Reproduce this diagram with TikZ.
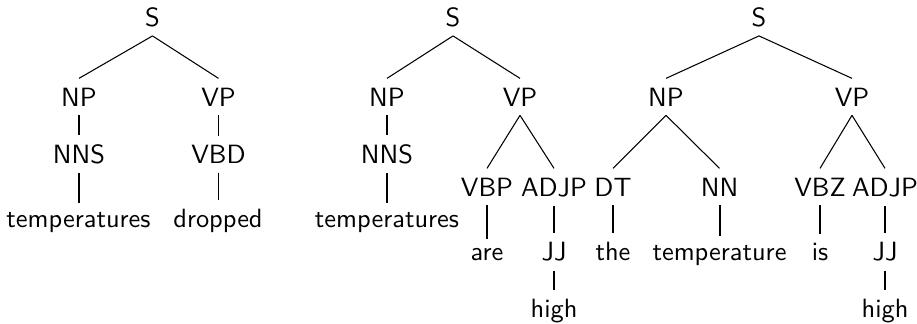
\documentclass[tikz,border=0pt]{standalone}
\begin{document}
\begin{tikzpicture}[x=0.3788pt,y=-0.3788pt,
  lbl/.style={anchor=base,font=\sffamily,inner sep=3.333pt},
  edge/.style={draw=black,line width=0.4pt},
  vedge/.style={draw=black,line width=0.75pt}]
\useasboundingbox (0,0) rectangle (917,323);
% ---------- tree 1 ----------
\node[lbl] (aS)   at (152.5,26)   {S};
\node[lbl] (aNP)  at (79,106)     {NP};
\node[lbl] (aVP)  at (218.5,106)  {VP};
\node[lbl] (aNNS) at (79,163.3)   {NNS};
\node[lbl] (aVBD) at (218.5,163.3){VBD};
\node[lbl] (aw1)  at (78.5,227.7) {temperatures};
\node[lbl] (aw2)  at (218,227.7)  {dropped};
\draw[edge] (aS.south) -- (aNP.north);
\draw[edge] (aS.south) -- (aVP.north);
\draw[vedge] (aNP.south) -- (aNNS.north);
\draw[vedge] (aVP.south) -- (aVBD.north);
\draw[vedge] (aNNS.south) -- (aNNS.south|-aw1.north);
\draw[vedge] (aVBD.south) -- (aVBD.south|-aw2.north);
% ---------- tree 2 ----------
\node[lbl] (bS)    at (453,26)    {S};
\node[lbl] (bNP)   at (387,106)   {NP};
\node[lbl] (bVP)   at (520,106)   {VP};
\node[lbl] (bNNS)  at (387,163.3) {NNS};
\node[lbl] (bw1)   at (387,227.7) {temperatures};
\node[lbl] (bVBP)  at (487,196)   {VBP};
\node[lbl] (bADJP) at (554,196)   {ADJP};
\node[lbl] (bw2)   at (487,260.7) {are};
\node[lbl] (bJJ)   at (554,260.7) {JJ};
\node[lbl] (bw3)   at (554,317.3) {high};
\draw[edge] (bS.south) -- (bNP.north);
\draw[edge] (bS.south) -- (bVP.north);
\draw[vedge] (bNP.south) -- (bNNS.north);
\draw[vedge] (bNNS.south) -- (bNNS.south|-bw1.north);
\draw[edge] (bVP.south) -- (bVBP.north);
\draw[edge] (bVP.south) -- (bADJP.north);
\draw[vedge] (bVBP.south) -- (bVBP.south|-bw2.north);
\draw[vedge] (bADJP.south) -- (bJJ.north);
\draw[vedge] (bJJ.south) -- (bJJ.south|-bw3.north);
% ---------- tree 3 ----------
\node[lbl] (cS)    at (759,26)    {S};
\node[lbl] (cNP)   at (666,106)   {NP};
\node[lbl] (cVP)   at (852,106)   {VP};
\node[lbl] (cDT)   at (613,196)   {DT};
\node[lbl] (cNN)   at (719.5,196) {NN};
\node[lbl] (cVBZ)  at (820,196)   {VBZ};
\node[lbl] (cADJP) at (885,196)   {ADJP};
\node[lbl] (cw1)   at (613,260.7) {the};
\node[lbl] (cw2)   at (719.5,260.7) {temperature};
\node[lbl] (cw3)   at (820,260.7) {is};
\node[lbl] (cJJ)   at (885,260.7) {JJ};
\node[lbl] (cw4)   at (885,317.3) {high};
\draw[edge] (cS.south) -- (cNP.north);
\draw[edge] (cS.south) -- (cVP.north);
\draw[edge] (cNP.south) -- (cDT.north);
\draw[edge] (cNP.south) -- (cNN.north);
\draw[edge] (cVP.south) -- (cVBZ.north);
\draw[edge] (cVP.south) -- (cADJP.north);
\draw[vedge] (cDT.south) -- (cDT.south|-cw1.north);
\draw[vedge] (cNN.south) -- (cNN.south|-cw2.north);
\draw[vedge] (cVBZ.south) -- (cVBZ.south|-cw3.north);
\draw[vedge] (cADJP.south) -- (cJJ.north);
\draw[vedge] (cJJ.south) -- (cJJ.south|-cw4.north);
\end{tikzpicture}
\end{document}
